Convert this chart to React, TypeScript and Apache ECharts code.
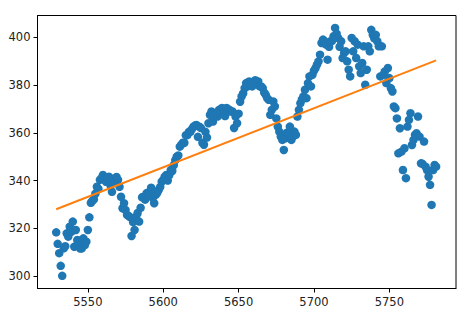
import React, { useEffect, useRef } from "react";
import * as echarts from "echarts";

// x values are consecutive integers starting here
const xStart = 5529;

// observed values, one per x (5529 .. 5781)
const values: number[] = [
  318.3, 313.5, 309.6, 304.3, 300.1, 311.6, 312.5, 317.9, 316.5, 320.7,
  318.5, 322.8, 312.3, 319.3, 315.1, 313.5, 311.5, 311.6, 315.8, 313.0,
  314.4, 319.3, 324.6, 330.7, 331.5, 332.1, 334.5, 337.4, 336.5, 340.3,
  341.0, 342.3, 340.5, 339.5, 341.3, 341.6, 338.0, 335.3, 339.0, 340.3,
  341.5, 340.3, 337.4, 333.2, 328.4, 330.5, 327.7, 325.6, 325.2, 324.7,
  316.8, 322.6, 319.3, 324.9, 326.4, 322.8, 328.6, 333.0, 333.2, 332.0,
  334.7, 335.0, 334.7, 337.0, 332.7, 330.5, 334.0, 334.8, 336.1, 337.3,
  339.5, 340.3, 341.6, 342.3, 340.0, 342.3, 344.4, 344.0, 346.5, 348.6,
  350.0, 350.5, 354.2, 355.0, 355.8, 355.8, 359.0, 359.0, 360.4, 360.4,
  361.5, 362.5, 363.0, 363.3, 358.3, 362.5, 362.0, 355.8, 355.0, 360.4,
  358.0, 364.0, 367.5, 368.9, 364.7, 366.8, 368.2, 366.8, 369.6, 368.5,
  370.4, 368.3, 367.0, 370.4, 369.0, 369.6, 368.9, 368.9, 362.0, 366.8,
  364.0, 368.0, 373.0, 375.2, 376.5, 378.7, 380.8, 379.5, 381.5, 380.0,
  379.4, 380.8, 382.0, 381.5, 381.5, 379.4, 379.4, 378.7, 376.8, 375.9,
  374.5, 373.8, 367.5, 369.6, 373.1, 371.0, 366.0, 362.6, 360.5, 358.4,
  357.0, 352.8, 357.7, 360.0, 359.8, 362.6, 357.0, 358.4, 360.5, 359.1,
  366.8, 369.6, 372.4, 374.0, 375.2, 378.0, 374.5, 380.8, 383.6, 379.4,
  384.3, 386.0, 387.1, 388.5, 389.9, 392.7, 397.6, 399.0, 398.3, 396.9,
  390.6, 396.0, 398.3, 398.5, 400.4, 403.9, 401.5, 399.7, 396.0, 398.3,
  391.3, 393.4, 394.1, 389.9, 386.4, 383.6, 399.7, 394.1, 398.3, 391.3,
  396.9, 387.8, 385.0, 389.2, 396.2, 380.1, 386.4, 396.2, 394.1, 403.1,
  401.0, 399.5, 401.0, 398.3, 396.2, 383.6, 396.2, 384.3, 385.7, 380.8,
  387.1, 382.9, 378.7, 377.3, 371.0, 370.3, 366.0, 351.4, 361.9, 352.1,
  344.4, 353.5, 341.0, 362.6, 365.4, 368.2, 354.9, 357.0, 359.1, 359.8,
  366.8, 358.4, 347.2, 347.0, 356.3, 345.8, 344.4, 341.6, 338.2, 329.8,
  344.4, 346.5, 345.8,
];

// fitted trend line endpoints
const fitX = [5529, 5781];
const fitY = [328.0, 390.3];

// tick labels
const xTicks = [5550, 5600, 5650, 5700, 5750];
const yTicks = [300, 320, 340, 360, 380, 400];

export default function App() {
  const ref = useRef<HTMLDivElement>(null);
  useEffect(() => {
    if (!ref.current) return;
    const chart = echarts.init(ref.current, undefined, { renderer: "svg" });
    const points = values.map((v, i) => [xStart + i, v]);
    const fit = fitX.map((x, i) => [x, fitY[i]]);
    const labelStyle = {
      color: "#222",
      fontFamily: "DejaVu Sans",
      fontSize: 11.5,
      formatter: (v: number) => String(v),
    };
    chart.setOption({
      animation: false,
      grid: {
        left: 37.5,
        right: 7,
        top: 15.5,
        bottom: 28.5,
        show: true,
        borderColor: "#000",
        borderWidth: 1,
        backgroundColor: "transparent",
      },
      xAxis: {
        type: "value",
        min: 5516.6,
        max: 5794.2,
        splitLine: { show: false },
        axisLine: { show: true, lineStyle: { color: "#000", width: 1 } },
        axisTick: {
          show: true,
          length: 4,
          lineStyle: { color: "#000", width: 1 },
          customValues: xTicks,
        },
        axisLabel: { ...labelStyle, margin: 7, customValues: xTicks },
      },
      yAxis: {
        type: "value",
        min: 294.8,
        max: 409.1,
        splitLine: { show: false },
        axisLine: { show: true, lineStyle: { color: "#000", width: 1 } },
        axisTick: {
          show: true,
          length: 4,
          lineStyle: { color: "#000", width: 1 },
          customValues: yTicks,
        },
        axisLabel: { ...labelStyle, margin: 7, customValues: yTicks },
      },
      series: [
        {
          type: "scatter",
          data: points,
          symbol: "circle",
          symbolSize: 8.5,
          itemStyle: { color: "#1f77b4", opacity: 1 },
        },
        {
          type: "line",
          data: fit,
          showSymbol: false,
          symbol: "none",
          lineStyle: { color: "#ff7f0e", width: 2 },
        },
      ],
    });
    return () => chart.dispose();
  }, []);
  return (
    <div
      ref={ref}
      style={{
        position: "fixed",
        left: 0,
        top: 0,
        width: 463,
        height: 317,
        background: "#fff",
      }}
    />
  );
}
